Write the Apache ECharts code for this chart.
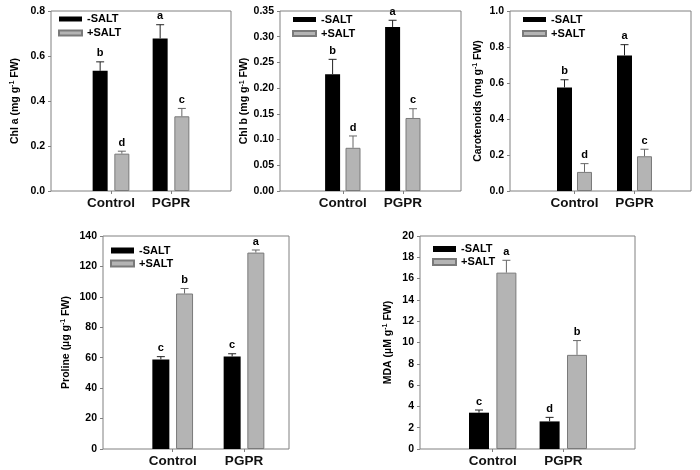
<!DOCTYPE html>
<html><head><meta charset="utf-8">
<script src="https://cdn.jsdelivr.net/npm/echarts@6/dist/echarts.min.js"></script>
<style>html,body{margin:0;padding:0;background:#fff}#c{width:700px;height:470px}</style>
</head><body><div id="c"></div>
<script>
// ---------- DATA ----------
const categories = ['Control', 'PGPR'];
const seriesNames = ['-SALT', '+SALT'];

// Chl a (mg g-1 FW)
const chlaNoSalt = [0.534, 0.678];
const chlaNoSaltErr = [0.040, 0.061];
const chlaSalt = [0.166, 0.332];
const chlaSaltErr = [0.011, 0.035];
const chlaNoSaltLetters = ['b', 'a'];
const chlaSaltLetters = ['d', 'c'];
const chlaTicks = [0.0, 0.2, 0.4, 0.6, 0.8];

// Chl b (mg g-1 FW)
const chlbNoSalt = [0.227, 0.319];
const chlbNoSaltErr = [0.029, 0.013];
const chlbSalt = [0.084, 0.142];
const chlbSaltErr = [0.023, 0.018];
const chlbNoSaltLetters = ['b', 'a'];
const chlbSaltLetters = ['d', 'c'];
const chlbTicks = [0.00, 0.05, 0.10, 0.15, 0.20, 0.25, 0.30, 0.35];

// Carotenoids (mg g-1 FW)
const carNoSalt = [0.575, 0.753];
const carNoSaltErr = [0.043, 0.060];
const carSalt = [0.106, 0.193];
const carSaltErr = [0.046, 0.039];
const carNoSaltLetters = ['b', 'a'];
const carSaltLetters = ['d', 'c'];
const carTicks = [0.0, 0.2, 0.4, 0.6, 0.8, 1.0];

// Proline (µg g-1 FW)
const proNoSalt = [58.9, 60.8];
const proNoSaltErr = [1.8, 1.8];
const proSalt = [102.2, 129.1];
const proSaltErr = [3.3, 1.7];
const proNoSaltLetters = ['c', 'c'];
const proSaltLetters = ['b', 'a'];
const proTicks = [0, 20, 40, 60, 80, 100, 120, 140];

// MDA (µM g-1 FW)
const mdaNoSalt = [3.41, 2.59];
const mdaNoSaltErr = [0.25, 0.38];
const mdaSalt = [16.56, 8.84];
const mdaSaltErr = [1.16, 1.34];
const mdaNoSaltLetters = ['c', 'd'];
const mdaSaltLetters = ['a', 'b'];
const mdaTicks = [0, 2, 4, 6, 8, 10, 12, 14, 16, 18, 20];

// ---------- LAYOUT / STYLE ----------
const FONT = 'Liberation Sans, Arial, sans-serif';
const panels = [
  { label: 'Chl a (mg g', noSalt: chlaNoSalt, noSaltErr: chlaNoSaltErr, salt: chlaSalt, saltErr: chlaSaltErr,
    lettersA: chlaNoSaltLetters, lettersB: chlaSaltLetters, ticks: chlaTicks, dec: 1,
    box: [51, 11, 231, 191], centers: [111, 171], barW: 15, gap: 6.7, nameGap: 30,
    legend: [58, 13.5], legH: 5, legGap: 3 },
  { label: 'Chl b (mg g', noSalt: chlbNoSalt, noSaltErr: chlbNoSaltErr, salt: chlbSalt, saltErr: chlbSaltErr,
    lettersA: chlbNoSaltLetters, lettersB: chlbSaltLetters, ticks: chlbTicks, dec: 2,
    box: [280, 11, 461, 191], centers: [342.8, 402.8], barW: 15, gap: 5.4, nameGap: 29,
    legend: [292, 14], legH: 5, legGap: 3 },
  { label: 'Carotenoids (mg g', noSalt: carNoSalt, noSaltErr: carNoSaltErr, salt: carSalt, saltErr: carSaltErr,
    lettersA: carNoSaltLetters, lettersB: carSaltLetters, ticks: carTicks, dec: 1,
    box: [510, 11, 691, 191], centers: [574.5, 634.5], barW: 15, gap: 5, nameGap: 26,
    legend: [522, 14], legH: 5, legGap: 3 },
  { label: 'Proline (\u00b5g g', noSalt: proNoSalt, noSaltErr: proNoSaltErr, salt: proSalt, saltErr: proSaltErr,
    lettersA: proNoSaltLetters, lettersB: proSaltLetters, ticks: proTicks, dec: 0,
    box: [103, 236, 289, 449], centers: [172.7, 244], barW: 17, gap: 6.7, nameGap: 31,
    legend: [110, 245], legH: 6, legGap: 2 },
  { label: 'MDA (\u00b5M g', noSalt: mdaNoSalt, noSaltErr: mdaNoSaltErr, salt: mdaSalt, saltErr: mdaSaltErr,
    lettersA: mdaNoSaltLetters, lettersB: mdaSaltLetters, ticks: mdaTicks, dec: 0,
    box: [420, 236, 635, 449], centers: [492.7, 563.3], barW: 20, gap: 7.4, nameGap: 26,
    legend: [432, 243.5], legH: 6, legGap: 2 }
];

const BLACK = '#000000';
const GREY = '#b4b4b4';
const GREY_BORDER = '#7a7a7a';
const FRAME = '#808080';

const grid = [], xAxis = [], yAxis = [], series = [], legend = [];

function errSeries(p, gi, vals, errs, letters, offset, color) {
  return {
    type: 'custom', xAxisIndex: gi, yAxisIndex: gi, z: 5,
    data: vals.map((v, i) => [i, v]),
    renderItem: function (params, api) {
      const i = params.dataIndex;
      const v = vals[i], e = errs[i];
      const base = api.coord([i, v]);
      const top = api.coord([i, v + e]);
      const x = base[0] + offset;
      const cap = 4;
      return { type: 'group', children: [
        { type: 'line', shape: { x1: x, y1: base[1], x2: x, y2: top[1] }, style: { stroke: color, lineWidth: 1 } },
        { type: 'line', shape: { x1: x - cap, y1: top[1], x2: x + cap, y2: top[1] }, style: { stroke: color, lineWidth: 1 } },
        { type: 'text', style: { text: letters[i], x: x, y: top[1] - 8.5, align: 'center', verticalAlign: 'middle',
          font: 'bold 11px ' + FONT, fill: '#000' } }
      ]};
    }
  };
}

panels.forEach((p, k) => {
  const [L, T, R, B] = p.box;
  const ga = 2 * k, gb = 2 * k + 1;
  const tmin = p.ticks[0], tmax = p.ticks[p.ticks.length - 1];
  const interval = p.ticks[1] - p.ticks[0];
  grid.push({ left: L, top: T, width: R - L, height: B - T, show: true, borderColor: FRAME, borderWidth: 1,
    backgroundColor: 'transparent', containLabel: false, outerBoundsMode: 'none' });
  const s = p.centers[1] - p.centers[0];
  grid.push({ left: p.centers[0] - s / 2, top: T, width: 2 * s, height: B - T, containLabel: false, outerBoundsMode: 'none' });

  xAxis.push({ gridIndex: ga, type: 'value', min: 0, max: 1, show: false });
  yAxis.push({ gridIndex: ga, type: 'value', min: tmin, max: tmax, interval: interval,
    axisLine: { show: false }, splitLine: { show: false },
    axisTick: { show: true, inside: false, length: 3, lineStyle: { color: FRAME } },
    axisLabel: { color: '#000', fontWeight: 'bold', fontSize: 10.5, fontFamily: FONT, margin: 6,
      formatter: v => v.toFixed(p.dec) },
    name: '{a|' + p.label + '}{s|-1}{a| FW)}', nameLocation: 'middle', nameGap: p.nameGap, nameRotate: 90,
    nameTextStyle: { rich: {
      a: { fontSize: 10.5, fontWeight: 'bold', fontFamily: FONT, color: '#000', lineHeight: 12 },
      s: { fontSize: 7, fontWeight: 'bold', fontFamily: FONT, color: '#000', lineHeight: 8, verticalAlign: 'top' }
    } }
  });

  xAxis.push({ gridIndex: gb, type: 'category', data: categories, boundaryGap: true,
    axisLine: { show: false }, splitLine: { show: false },
    axisTick: { show: true, alignWithLabel: true, length: 3, lineStyle: { color: FRAME } },
    axisLabel: { interval: 0, color: '#111', fontWeight: 'bold', fontSize: 13.5, fontFamily: FONT, margin: 5 } });
  yAxis.push({ gridIndex: gb, type: 'value', min: tmin, max: tmax, interval: interval, show: false });

  const gapPct = (p.gap / p.barW * 100).toFixed(1) + '%';
  series.push({ type: 'bar', name: seriesNames[0], xAxisIndex: gb, yAxisIndex: gb, data: p.noSalt,
    barWidth: p.barW, barGap: gapPct, itemStyle: { color: BLACK }, z: 2 });
  series.push({ type: 'bar', name: seriesNames[1], xAxisIndex: gb, yAxisIndex: gb, data: p.salt,
    barWidth: p.barW, barGap: gapPct, itemStyle: { color: GREY, borderColor: GREY_BORDER, borderWidth: 1 }, z: 2 });
  const off = (p.barW + p.gap) / 2;
  series.push(errSeries(p, gb, p.noSalt, p.noSaltErr, p.lettersA, -off, '#222'));
  series.push(errSeries(p, gb, p.salt, p.saltErr, p.lettersB, off, '#666'));

  legend.push({ data: seriesNames, orient: 'vertical', left: p.legend[0], top: p.legend[1], padding: 0,
    itemWidth: 23, itemHeight: p.legH, itemGap: p.legGap, icon: 'rect', selectedMode: false,
    textStyle: { fontWeight: 'bold', fontSize: 11, fontFamily: FONT, color: '#000' } });
});

const chart = echarts.init(document.getElementById('c'), null, { renderer: 'canvas' });
chart.setOption({ animation: false, backgroundColor: '#fff', grid, xAxis, yAxis, series, legend });
</script></body></html>
